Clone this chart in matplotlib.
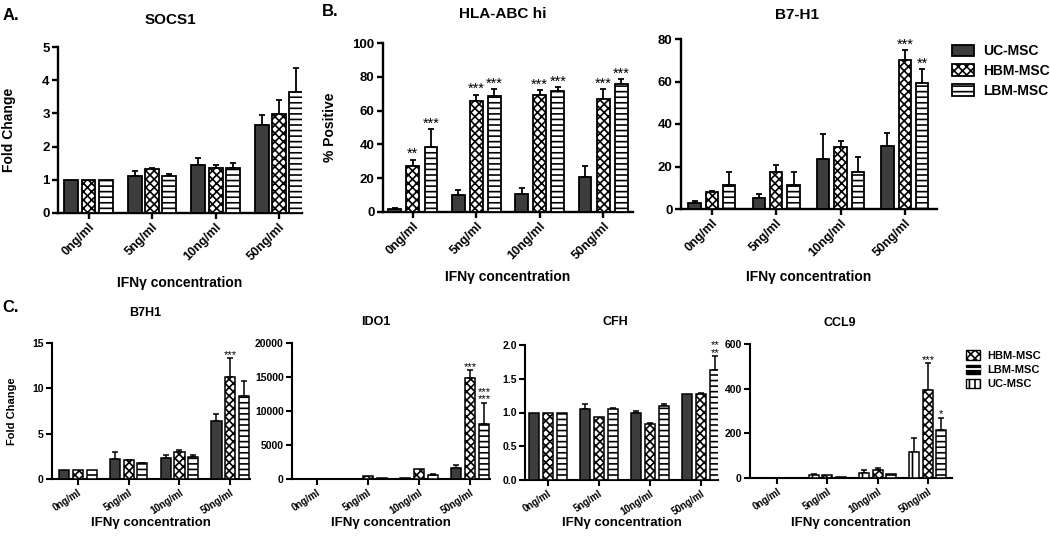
import matplotlib
matplotlib.use('Agg')
import matplotlib.pyplot as plt
import numpy as np
from matplotlib.patches import Patch
from matplotlib.lines import Line2D

plt.rcParams['font.family'] = ['Liberation Sans', 'DejaVu Sans']
plt.rcParams['font.weight'] = 'bold'
plt.rcParams['hatch.linewidth'] = 1.2

# ---------------- data ----------------
conc = ['0ng/ml', '5ng/ml', '10ng/ml', '50ng/ml']

# A. SOCS1 (fold change)
socs1_uc = [1.0, 1.12, 1.45, 2.65]
socs1_uc_err = [0, 0.15, 0.20, 0.30]
socs1_hbm = [1.0, 1.32, 1.35, 2.97]
socs1_hbm_err = [0, 0.03, 0.10, 0.43]
socs1_lbm = [1.0, 1.10, 1.37, 3.63]
socs1_lbm_err = [0, 0.06, 0.15, 0.75]

# B. HLA-ABC hi (% positive)
hla_uc = [2.0, 10.0, 10.5, 21.0]
hla_uc_err = [0.5, 3.0, 3.5, 6.0]
hla_hbm = [27.0, 65.5, 69.0, 67.0]
hla_hbm_err = [4.0, 4.0, 3.0, 5.5]
hla_lbm = [38.5, 68.5, 71.5, 76.0]
hla_lbm_err = [10.5, 4.0, 2.5, 2.5]
hla_stars_hbm = ['**', '***', '***', '***']
hla_stars_lbm = ['***', '***', '***', '***']

# B. B7-H1 (% positive)
b7_uc = [3.0, 5.0, 23.5, 29.8]
b7_uc_err = [0.8, 2.0, 12.0, 6.2]
b7_hbm = [8.0, 17.5, 29.0, 70.0]
b7_hbm_err = [0.3, 3.0, 3.0, 4.8]
b7_lbm = [11.5, 11.5, 17.4, 59.3]
b7_lbm_err = [6.0, 6.0, 7.0, 6.6]
b7_stars_hbm = ['', '', '', '***']
b7_stars_lbm = ['', '', '', '**']

# C. B7H1 (fold change)
c_b7_uc = [1.0, 2.2, 2.3, 6.4]
c_b7_uc_err = [0, 0.8, 0.3, 0.8]
c_b7_hbm = [1.0, 2.05, 3.0, 11.2]
c_b7_hbm_err = [0, 0.1, 0.2, 2.1]
c_b7_lbm = [1.0, 1.75, 2.4, 9.2]
c_b7_lbm_err = [0, 0.05, 0.3, 1.6]
c_b7_stars_hbm = ['', '', '', '***']
c_b7_stars_lbm = ['', '', '', '']

# C. IDO1
ido_uc = [5, 20, 100, 1550]
ido_uc_err = [0, 0, 0, 550]
ido_hbm = [5, 400, 1450, 14900]
ido_hbm_err = [0, 0, 0, 1100]
ido_lbm = [5, 150, 650, 8100]
ido_lbm_err = [0, 0, 150, 3100]
ido_stars_hbm = ['', '', '', '***']
ido_stars_lbm = ['', '', '', '***\n***']

# C. CFH
cfh_uc = [1.0, 1.05, 1.0, 1.27]
cfh_uc_err = [0, 0.07, 0.02, 0]
cfh_hbm = [1.0, 0.93, 0.83, 1.28]
cfh_hbm_err = [0, 0, 0.01, 0.01]
cfh_lbm = [1.0, 1.05, 1.09, 1.63]
cfh_lbm_err = [0, 0.01, 0.04, 0.20]
cfh_stars_hbm = ['', '', '', '']
cfh_stars_lbm = ['', '', '', '**\n**']

# C. CCL9
ccl9_uc = [2, 12, 22, 118]
ccl9_uc_err = [0, 6, 12, 62]
ccl9_hbm = [2, 12, 38, 394]
ccl9_hbm_err = [0, 0, 5, 120]
ccl9_lbm = [1, 5, 18, 215]
ccl9_lbm_err = [0, 0, 0, 55]
ccl9_stars_hbm = ['', '', '', '***']
ccl9_stars_lbm = ['', '', '', '*']

# ---------------- layout helpers ----------------
W, H = 1050, 540
fig = plt.figure(figsize=(10.5, 5.4), dpi=100)

def rect(l, r, t, b):
    return [l / W, 1 - b / H, (r - l) / W, (b - t) / H]

def fx(px):
    return px / W

def fy(py):
    return 1 - py / H

DARK = '#3d3d3d'
STY_UC = dict(fc=DARK, hatch=None)
STY_UC_V = dict(fc='white', hatch='||')
STY_HBM = dict(fc='white', hatch='xxxx')
STY_LBM = dict(fc='white', hatch='---')


def panel(box, series, styles, stars, xlim, ylim, yticks, ytl, pitch, width,
          tick_fs, ytick_fs, star_fs, lw=1.3, spine_lw=1.7, rot=45):
    ax = fig.add_axes(rect(*box))
    x = np.arange(len(conc))
    for i, ((vals, err), st) in enumerate(zip(series, styles)):
        pos = x + (i - 1) * pitch
        vals = np.asarray(vals, float)
        err = np.asarray(err, float)
        ax.bar(pos, vals, width, facecolor=st['fc'], edgecolor='black',
               hatch=st['hatch'], linewidth=lw, zorder=3)
        m = err > 0
        if m.any():
            ax.errorbar(pos[m], vals[m], yerr=[np.zeros(m.sum()), err[m]],
                        fmt='none', ecolor='black', elinewidth=lw,
                        capsize=2.5, capthick=lw, zorder=2)
        if stars is not None and stars[i] is not None:
            for j, s in enumerate(stars[i]):
                if s:
                    ax.annotate(s, xy=(pos[j], vals[j] + err[j]), xytext=(0, -1),
                                textcoords='offset points', ha='center',
                                va='bottom', fontsize=star_fs,
                                fontweight='normal', linespacing=0.7)
    ax.set_xlim(*xlim)
    ax.set_ylim(*ylim)
    ax.set_yticks(yticks)
    ax.set_yticklabels(ytl)
    ax.set_xticks(x)
    ax.set_xticklabels(conc, rotation=rot, ha='right', rotation_mode='anchor')
    for s in ['top', 'right']:
        ax.spines[s].set_visible(False)
    for s in ['left', 'bottom']:
        ax.spines[s].set_linewidth(spine_lw)
    ax.tick_params(width=spine_lw, length=4, pad=2)
    ax.tick_params(axis='x', labelsize=tick_fs)
    ax.tick_params(axis='y', labelsize=ytick_fs)
    for lab in ax.get_xticklabels() + ax.get_yticklabels():
        lab.set_fontweight('bold')
    return ax

# ---- A. SOCS1
axA = panel((58, 302, 47, 213),
            [(socs1_uc, socs1_uc_err), (socs1_hbm, socs1_hbm_err), (socs1_lbm, socs1_lbm_err)],
            [STY_UC, STY_HBM, STY_LBM], None,
            (-0.48, 3.36), (0, 5), [0, 1, 2, 3, 4, 5], ['0', '1', '2', '3', '4', '5'],
            0.27, 0.22, 9, 9.5, 10.5)
axA.set_ylabel('Fold Change', fontsize=10, fontweight='bold')
axA.yaxis.set_label_coords((16 - 58) / (302 - 58), 0.5)
axA.set_xlabel('IFNγ concentration', fontsize=10, fontweight='bold')
axA.xaxis.set_label_coords(0.5, -(276 - 213) / (213 - 47))

# ---- B. HLA-ABC hi
axB1 = panel((383, 633, 43, 212),
             [(hla_uc, hla_uc_err), (hla_hbm, hla_hbm_err), (hla_lbm, hla_lbm_err)],
             [STY_UC, STY_HBM, STY_LBM], [None, hla_stars_hbm, hla_stars_lbm],
             (-0.47, 3.47), (0, 100), [0, 20, 40, 60, 80, 100],
             ['0', '20', '40', '60', '80', '100'], 0.285, 0.2, 9, 9.5, 10.5)
axB1.set_ylabel('% Positive', fontsize=10, fontweight='bold')
axB1.yaxis.set_label_coords((337 - 383) / (633 - 383), 0.5)
axB1.set_xlabel('IFNγ concentration', fontsize=10, fontweight='bold')
axB1.xaxis.set_label_coords(0.5, -(270 - 212) / (212 - 43))

# ---- B. B7-H1
axB2 = panel((681, 937, 39, 209),
             [(b7_uc, b7_uc_err), (b7_hbm, b7_hbm_err), (b7_lbm, b7_lbm_err)],
             [STY_UC, STY_HBM, STY_LBM], [None, b7_stars_hbm, b7_stars_lbm],
             (-0.48, 3.5), (0, 80), [0, 20, 40, 60, 80],
             ['0', '20', '40', '60', '80'], 0.27, 0.19, 9, 9.5, 10.5)
axB2.set_xlabel('IFNγ concentration', fontsize=10, fontweight='bold')
axB2.xaxis.set_label_coords(0.5, -(270 - 209) / (209 - 39))

# ---- C panels
cfs = 7
yfs = 7.5
sfs = 8
crot = 33
axC1 = panel((52, 250, 343, 479),
             [(c_b7_uc, c_b7_uc_err), (c_b7_hbm, c_b7_hbm_err), (c_b7_lbm, c_b7_lbm_err)],
             [STY_UC, STY_HBM, STY_LBM], [None, c_b7_stars_hbm, c_b7_stars_lbm],
             (-0.51, 3.39), (0, 15), [0, 5, 10, 15], ['0', '5', '10', '15'],
             0.27, 0.2, cfs, yfs, sfs, lw=1.1, spine_lw=1.5, rot=crot)
axC1.set_ylabel('Fold Change', fontsize=8, fontweight='bold')
axC1.yaxis.set_label_coords((17 - 52) / (250 - 52), 0.5)

axC2 = panel((292, 490, 343, 479),
             [(ido_uc, ido_uc_err), (ido_hbm, ido_hbm_err), (ido_lbm, ido_lbm_err)],
             [STY_UC, STY_HBM, STY_LBM], [None, ido_stars_hbm, ido_stars_lbm],
             (-0.49, 3.39), (0, 20000), [0, 5000, 10000, 15000, 20000],
             ['0', '5000', '10000', '15000', '20000'], 0.27, 0.2, cfs, yfs, sfs,
             lw=1.1, spine_lw=1.5, rot=crot)

axC3 = panel((525, 718, 345, 480),
             [(cfh_uc, cfh_uc_err), (cfh_hbm, cfh_hbm_err), (cfh_lbm, cfh_lbm_err)],
             [STY_UC, STY_HBM, STY_LBM], [None, cfh_stars_hbm, cfh_stars_lbm],
             (-0.45, 3.33), (0, 2.0), [0, 0.5, 1.0, 1.5, 2.0],
             ['0.0', '0.5', '1.0', '1.5', '2.0'], 0.27, 0.2, cfs, yfs, sfs,
             lw=1.1, spine_lw=1.5, rot=crot)

axC4 = panel((750, 952, 344, 478),
             [(ccl9_uc, ccl9_uc_err), (ccl9_hbm, ccl9_hbm_err), (ccl9_lbm, ccl9_lbm_err)],
             [STY_UC_V, STY_HBM, STY_LBM], [None, ccl9_stars_hbm, ccl9_stars_lbm],
             (-0.54, 3.48), (0, 600), [0, 200, 400, 600],
             ['0', '200', '400', '600'], 0.27, 0.2, cfs, yfs, sfs, lw=1.1,
             spine_lw=1.5, rot=crot)

for ax, top, bot in [(axC1, 343, 479), (axC2, 343, 479), (axC3, 345, 480), (axC4, 344, 478)]:
    ax.set_xlabel('IFNγ concentration', fontsize=9.5, fontweight='bold')
    ax.xaxis.set_label_coords(0.5, -(517 - bot) / (bot - top))

# ---- titles and panel letters
fig.text(fx(170), fy(20), 'SOCS1', ha='center', va='center', fontsize=11, fontweight='bold')
fig.text(fx(503), fy(14), 'HLA-ABC hi', ha='center', va='center', fontsize=11, fontweight='bold')
fig.text(fx(797), fy(15), 'B7-H1', ha='center', va='center', fontsize=11, fontweight='bold')
fig.text(fx(145), fy(313), 'B7H1', ha='center', va='center', fontsize=9, fontweight='bold')
fig.text(fx(376), fy(322), 'IDO1', ha='center', va='center', fontsize=9, fontweight='bold')
fig.text(fx(615), fy(322), 'CFH', ha='center', va='center', fontsize=9, fontweight='bold')
fig.text(fx(840), fy(323), 'CCL9', ha='center', va='center', fontsize=9, fontweight='bold')
fig.text(fx(3), fy(15), 'A.', ha='left', va='center', fontsize=12, fontweight='bold')
fig.text(fx(322), fy(12), 'B.', ha='left', va='center', fontsize=12, fontweight='bold')
fig.text(fx(2), fy(307), 'C.', ha='left', va='center', fontsize=12, fontweight='bold')

# ---- legends
top_handles = [Patch(facecolor=DARK, edgecolor='black', linewidth=1.3),
               Patch(facecolor='white', edgecolor='black', hatch='xxxx', linewidth=1.3),
               Patch(facecolor='white', edgecolor='black', hatch='---', linewidth=1.3)]
fig.legend(top_handles, ['UC-MSC', 'HBM-MSC', 'LBM-MSC'], loc='upper left',
           bbox_to_anchor=(fx(948), fy(40)), frameon=False,
           prop={'weight': 'bold', 'size': 10}, handlelength=1.6, handleheight=0.9,
           labelspacing=0.42, handletextpad=0.6, borderaxespad=0, borderpad=0.3)

bot_handles = [Patch(facecolor='white', edgecolor='black', hatch='xxxx', linewidth=1.0),
               (Patch(facecolor='black', edgecolor='black', linewidth=1.0),
                Line2D([], [], color='white', lw=1.3)),
               Patch(facecolor='white', edgecolor='black', hatch='|||', linewidth=1.0)]
fig.legend(bot_handles, ['HBM-MSC', 'LBM-MSC', 'UC-MSC'], loc='upper left',
           bbox_to_anchor=(fx(963), fy(347)), frameon=False,
           prop={'weight': 'bold', 'size': 8}, handlelength=1.2, handleheight=0.9,
           labelspacing=0.35, handletextpad=0.7, borderaxespad=0, borderpad=0.3)

fig.savefig('out.png', dpi=100)
